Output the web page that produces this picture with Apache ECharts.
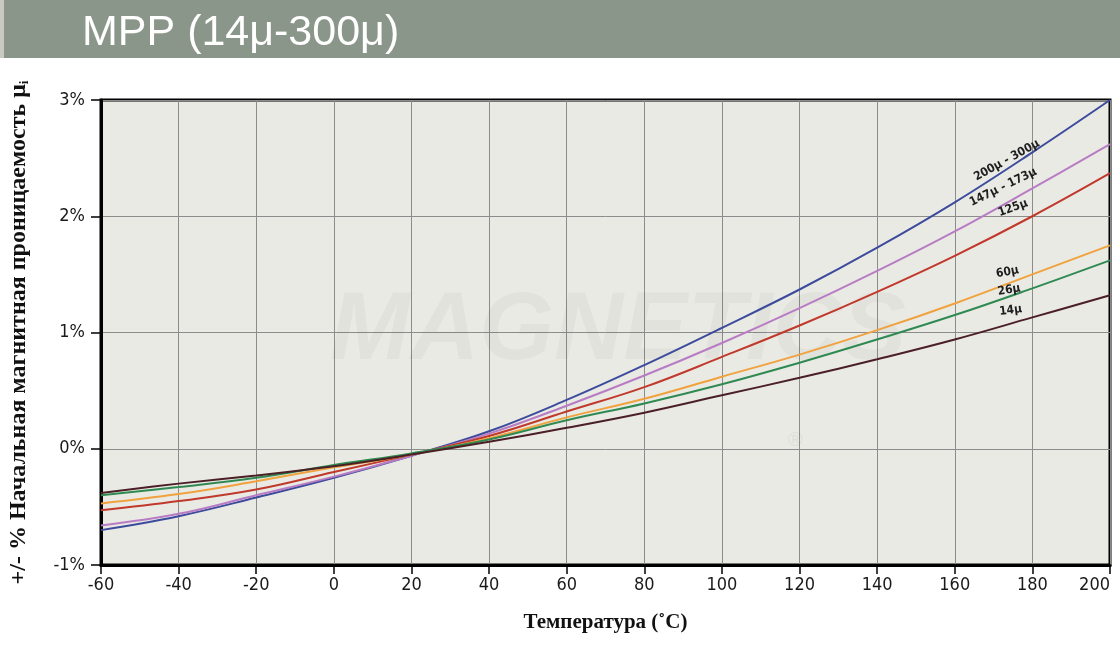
<!DOCTYPE html>
<html>
<head>
<meta charset="utf-8">
<script src="https://cdn.jsdelivr.net/npm/echarts@6/dist/echarts.min.js"></script>
<style>
html,body{margin:0;padding:0;background:#fff;overflow:hidden;}
#chart{width:1120px;height:647px;}
</style>
</head>
<body>
<div id="chart"></div>
<script>
const temps = [-60,-40,-20,0,20,40,60,80,100,120,140,160,180,200];
const s200_300 = [-0.70,-0.58,-0.42,-0.25,-0.06,0.15,0.42,0.72,1.04,1.37,1.73,2.12,2.55,3.00];
const s147_173 = [-0.66,-0.56,-0.40,-0.24,-0.06,0.13,0.37,0.63,0.91,1.21,1.53,1.87,2.24,2.62];
const s125 = [-0.53,-0.45,-0.35,-0.20,-0.05,0.11,0.32,0.53,0.79,1.06,1.35,1.66,2.00,2.37];
const s60 = [-0.47,-0.39,-0.28,-0.16,-0.05,0.09,0.27,0.43,0.62,0.81,1.02,1.25,1.50,1.75];
const s26 = [-0.40,-0.33,-0.25,-0.14,-0.04,0.08,0.245,0.39,0.555,0.74,0.94,1.15,1.38,1.62];
const s14 = [-0.38,-0.30,-0.23,-0.15,-0.05,0.06,0.18,0.31,0.46,0.61,0.77,0.94,1.13,1.32];
const seriesNames = ['200μ - 300μ','147μ - 173μ','125μ','60μ','26μ','14μ'];
const seriesValues = [s200_300, s147_173, s125, s60, s26, s14];
const seriesColors = ['#3d4b9c','#b87cc4','#c0392b','#f0a23e','#2f8a52','#4a1f25'];
// curve label anchors (temperature, percent) and rotation
const labelAnchors = [[173.4,2.48,29],[172.5,2.25,26],[175,2.07,20],[173.6,1.52,11],[174,1.365,9],[174.4,1.19,7]];

const chart = echarts.init(document.getElementById('chart'), null, {renderer:'canvas'});
const narrow = '"DejaVu Sans Condensed", "Liberation Sans Narrow", "Roboto Condensed", sans-serif';
const serif = '"Liberation Serif", "Times New Roman", serif';
const series = seriesNames.map((name,i)=>({
  name: name,
  type: 'line',
  smooth: 0.4,
  symbol: 'none',
  lineStyle: {color: seriesColors[i], width: 2},
  data: temps.map((t,j)=>[t, seriesValues[i][j]]),
  z: 3,
  markPoint: {
    symbol: 'circle', symbolSize: 0,
    data: [{coord:[labelAnchors[i][0], labelAnchors[i][1]]}],
    label: {show:true, formatter: name, rotate: labelAnchors[i][2], position:'inside',
      color:'#1e1e1e', fontSize: 12, fontWeight:'bold', fontFamily: narrow}
  }
}));

chart.setOption({
  animation: false,
  backgroundColor: '#ffffff',
  graphic: [
    {type:'rect', left:0, top:0, shape:{width:4, height:58}, style:{fill:'#c9cac3'}, z:0},
    {type:'rect', left:4, top:0, shape:{width:1116, height:58}, style:{fill:'#8b968a'}, z:0},
    {type:'text', left:82, top:12, style:{text:'MPP (14μ-300μ)', fill:'#ffffff', font:'43px "Liberation Sans", Arial, sans-serif'}, z:1},
    {type:'text', left:330, top:285, style:{text:'MAGNETICS', fill:'rgba(0,0,0,0.03)', font:'italic bold 96px "Liberation Sans", Arial, sans-serif'}, z:1},
    {type:'text', left:788, top:430, style:{text:'®', fill:'rgba(0,0,0,0.06)', font:'20px "Liberation Sans", Arial, sans-serif'}, z:1}
  ],
  grid: {left:101, right:10, top:100, bottom:82, show:true, backgroundColor:'#eaeae5', borderColor:'#000', borderWidth:3, outerBoundsMode:'none', containLabel:false},
  xAxis: {
    type:'value', min:-60, max:200, interval:20,
    name:'Температура (˚C)', nameLocation:'middle', nameGap:47,
    nameTextStyle:{fontFamily:serif, fontWeight:'bold', fontSize:21, color:'#111'},
    axisLine:{show:true, onZero:false, lineStyle:{color:'#000', width:3}},
    axisTick:{show:true, length:9, lineStyle:{color:'#000', width:1.5}},
    axisLabel:{fontFamily:narrow, fontSize:18, color:'#1a1a1a', margin:11, alignMaxLabel:'right'},
    splitLine:{show:true, lineStyle:{color:'#8c8c8c', width:1}}
  },
  yAxis: {
    type:'value', min:-1, max:3, interval:1,
    name:'+/- % Начальная магнитная проницаемость μ{sub|i}', nameLocation:'middle', nameGap:70,
    nameTextStyle:{fontFamily:serif, fontWeight:'bold', fontSize:24, color:'#111',
      rich:{sub:{fontFamily:serif, fontWeight:'bold', fontSize:13, color:'#111', verticalAlign:'bottom', padding:[9,0,0,0]}}},
    axisLine:{show:true, onZero:false, lineStyle:{color:'#000', width:3}},
    axisTick:{show:true, length:10, lineStyle:{color:'#000', width:1.5}},
    axisLabel:{fontFamily:narrow, fontSize:18, color:'#1a1a1a', margin:16, formatter: v => v + '%'},
    splitLine:{show:true, lineStyle:{color:'#8c8c8c', width:1}}
  },
  series: series
});
</script>
</body>
</html>
